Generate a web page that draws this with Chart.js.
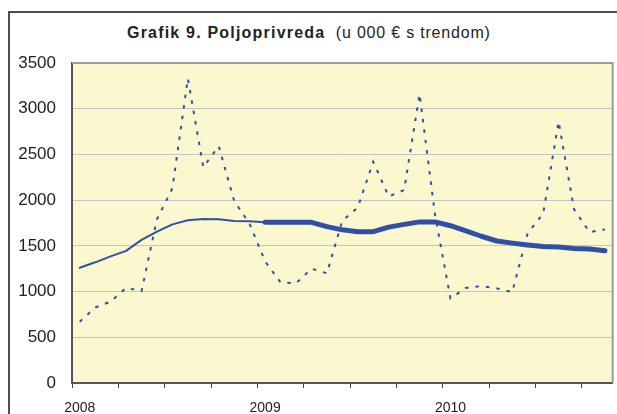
<!DOCTYPE html>
<html>
<head>
<meta charset="utf-8">
<script src="https://cdn.jsdelivr.net/npm/chart.js@4/dist/chart.umd.min.js"></script>
<style>
  html, body { margin: 0; padding: 0; background: #ffffff; overflow: hidden; }
  #wrap { position: relative; width: 617px; height: 414px; overflow: hidden; background: #ffffff; }
  #frame { position: absolute; left: 8px; top: 11px; width: 700px; height: 500px; border: 2px solid #4d4d4d; box-sizing: border-box; }
  #title { position: absolute; left: 127px; top: 25px; font-family: "Liberation Sans", Arial, sans-serif; font-size: 16px; line-height: 16px; color: #222222; white-space: pre; }
  #title b { letter-spacing: 1.2px; }
  #title span { letter-spacing: 0.8px; }
  canvas { position: absolute; left: 0; top: 0; }
</style>
</head>
<body>
<div id="wrap">
  <div id="frame"></div>
  <div id="title"><b>Grafik 9. Poljoprivreda</b><span>  (u 000 € s trendom)</span></div>
  <canvas id="c" width="617" height="414"></canvas>
</div>
<script>
// Monthly categories, Jan 2008 – Nov 2010
const categories = [
  '2008-01','2008-02','2008-03','2008-04','2008-05','2008-06','2008-07','2008-08','2008-09','2008-10','2008-11','2008-12',
  '2009-01','2009-02','2009-03','2009-04','2009-05','2009-06','2009-07','2009-08','2009-09','2009-10','2009-11','2009-12',
  '2010-01','2010-02','2010-03','2010-04','2010-05','2010-06','2010-07','2010-08','2010-09','2010-10','2010-11'
];
// Monthly values (u 000 €), dashed line
const monthlyValues = [
  670, 825, 890, 1040, 1005, 1790, 2130, 3330, 2360, 2590, 1990, 1740,
  1330, 1100, 1090, 1250, 1200, 1775, 1920, 2420, 2040, 2110, 3160, 1840,
  925, 1040, 1060, 1035, 995, 1640, 1850, 2860, 1900, 1650, 1680
];
// Trend values, solid line
const trendValues = [
  1260, 1320, 1385, 1445, 1565, 1655, 1735, 1780, 1795, 1790, 1772, 1768,
  1757, 1757, 1757, 1757, 1710, 1675, 1655, 1655, 1705, 1735, 1762, 1762,
  1720, 1665, 1605, 1553, 1530, 1510, 1492, 1488, 1470, 1465, 1447
];
const yTicks = { min: 0, max: 3500, step: 500 };
const thickFromIndex = 12;

const lineBlue = '#3050A6';
const fontFam = '"Liberation Sans", Arial, sans-serif';

const plotFrame = {
  id: 'plotFrame',
  beforeDraw(chart) {
    const { ctx, chartArea: a } = chart;
    ctx.save();
    ctx.fillStyle = '#FBF7CE';
    ctx.fillRect(a.left, a.top, a.right - a.left, a.bottom - a.top);
    ctx.restore();
  },
  afterDraw(chart) {
    const { ctx, chartArea: a } = chart;
    ctx.save();
    ctx.strokeStyle = '#9c9c9c';
    ctx.lineWidth = 2;
    ctx.beginPath();
    ctx.moveTo(a.left, a.top);
    ctx.lineTo(a.right, a.top);
    ctx.lineTo(a.right, a.bottom);
    ctx.stroke();
    ctx.restore();
  }
};

new Chart(document.getElementById('c'), {
  type: 'line',
  data: {
    labels: categories,
    datasets: [
      {
        label: 'Trend',
        data: trendValues,
        borderColor: lineBlue,
        borderWidth: 2,
        pointRadius: 0,
        tension: 0,
        borderCapStyle: 'round',
        borderJoinStyle: 'round',
        segment: {
          borderWidth: ctx => ctx.p0DataIndex >= thickFromIndex ? 5 : 2
        },
        order: 0
      },
      {
        label: 'Poljoprivreda',
        data: monthlyValues,
        borderColor: lineBlue,
        borderWidth: 2,
        borderDash: [3.5, 7],
        pointRadius: 0,
        tension: 0,
        order: 1
      }
    ]
  },
  options: {
    responsive: false,
    devicePixelRatio: 1,
    animation: false,
    layout: { padding: { left: 0, top: 63, right: 4, bottom: 0 } },
    plugins: { legend: { display: false }, tooltip: { enabled: false }, title: { display: false } },
    scales: {
      x: {
        type: 'category',
        offset: true,
        grid: {
          offset: true,
          drawOnChartArea: false,
          tickLength: 5,
          lineWidth: 1,
          color: ctx => (ctx.index % 3 === 0) ? '#444444' : 'rgba(0,0,0,0)'
        },
        border: { display: true, color: '#555555', width: 2 },
        ticks: {
          autoSkip: false,
          maxRotation: 0,
          padding: 12,
          color: '#222222',
          font: { family: fontFam, size: 14 },
          callback: function (v, i) {
            const lab = categories[i];
            return lab.endsWith('-01') ? lab.slice(0, 4) : '';
          }
        },
        afterFit: s => { s.height = 31; }
      },
      y: {
        min: yTicks.min,
        max: yTicks.max,
        grid: { color: '#C4C4C4', lineWidth: 1, drawTicks: false },
        border: { display: true, color: '#555555', width: 2 },
        ticks: {
          stepSize: yTicks.step,
          padding: 16,
          color: '#222222',
          font: { family: fontFam, size: 17 },
          callback: v => String(v)
        },
        afterFit: s => { s.width = 72; }
      }
    }
  },
  plugins: [plotFrame]
});
</script>
</body>
</html>
